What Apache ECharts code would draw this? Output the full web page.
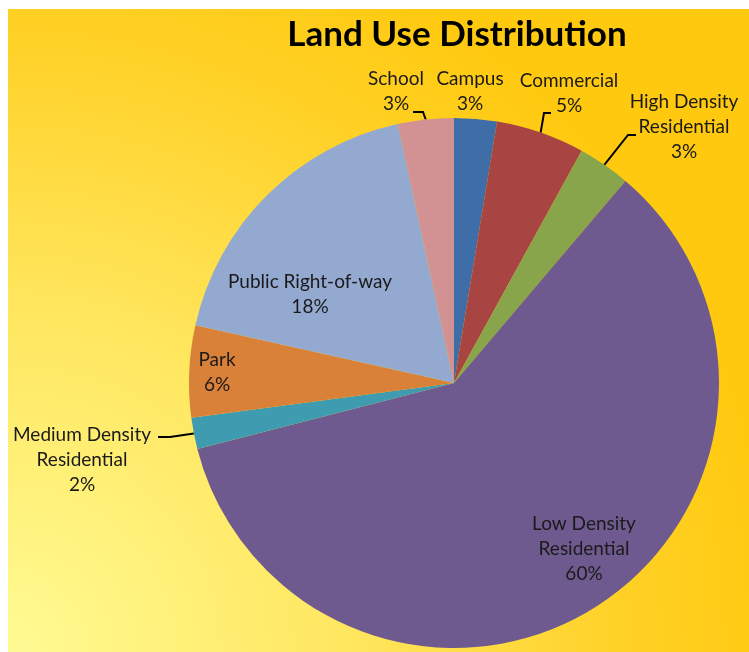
<!DOCTYPE html>
<html>
<head>
<meta charset="utf-8">
<script src="https://cdn.jsdelivr.net/npm/echarts@6/dist/echarts.min.js"></script>
<style>
html,body{margin:0;padding:0;background:#fff;}
#c{width:749px;height:652px;}
</style>
</head>
<body>
<div id="c"></div>
<script>
// ---- data ----
const categories = ['Campus','Commercial','High Density Residential','Low Density Residential','Medium Density Residential','Park','Public Right-of-way','School'];
const labelNames = ['Campus','Commercial','High Density\nResidential','Low Density\nResidential','Medium Density\nResidential','Park','Public Right-of-way','School'];
const values = [2.6, 5.4, 3.2, 59.8, 1.9, 5.6, 18.1, 3.4];
const colors = ['#3F6DA7','#A84543','#88A54B','#6F5A8F','#3E9BB0','#DA8139','#94A9D0','#D29193'];
const titleText = 'Land Use Distribution';

// ---- layout (styling only) ----
const labelPos = {
  'Campus': [470, 91],
  'Commercial': [569, 93],
  'High Density Residential': [684, 127],
  'Low Density Residential': [584, 549],
  'Medium Density Residential': [82, 460],
  'Park': [217, 372],
  'Public Right-of-way': [310, 294],
  'School': [396, 91]
};
const leader = {
  'School': [[423,112],[413,112]],
  'Commercial': [[544,113],[551,113]],
  'High Density Residential': [[628,135],[636,135]],
  'Medium Density Residential': [[170,437],[158,437]]
};

const chart = echarts.init(document.getElementById('c'), null, {renderer:'canvas'});
const data = categories.map((n,i)=>({
  name:n, value:values[i],
  itemStyle:{color:colors[i]},
  labelLine:{show: !!leader[n]}
}));

chart.setOption({
  animation:false,
  graphic:[{
    type:'rect', z:-10, silent:true,
    shape:{x:8,y:9,width:741,height:643},
    style:{fill:{type:'radial',x:0,y:1,r:1.2,colorStops:[
      {offset:0,color:'#FFFB94'},
      {offset:0.45,color:'#FFE65E'},
      {offset:0.8,color:'#FFD126'},
      {offset:1,color:'#FFC90F'}
    ]}}
  }],
  title:{
    text:titleText, left:452, top:12, textAlign:'center',
    textStyle:{fontFamily:'Lato',fontWeight:'bold',fontSize:35,color:'#000'}
  },
  series:[{
    type:'pie',
    center:[454,383],
    radius:265,
    startAngle:90,
    clockwise:true,
    avoidLabelOverlap:false,
    data:data,
    label:{
      show:true, position:'outside',
      fontFamily:'Lato', fontSize:19, lineHeight:25, color:'#1a1a1a',
      align:'center',
      formatter:p=>labelNames[p.dataIndex]+'\n'+Math.round(p.percent)+'%'
    },
    labelLine:{show:true, length:10, length2:10, lineStyle:{color:'#000',width:2}},
    labelLayout:function(params){
      const n = categories[params.dataIndex];
      const pos = labelPos[n];
      const out = {x:pos[0], y:pos[1], align:'center', verticalAlign:'middle'};
      if (leader[n] && params.labelLinePoints) {
        const p0 = params.labelLinePoints[0];
        out.labelLinePoints = [p0, leader[n][0], leader[n][1]];
      }
      return out;
    }
  }]
});
</script>
</body>
</html>
